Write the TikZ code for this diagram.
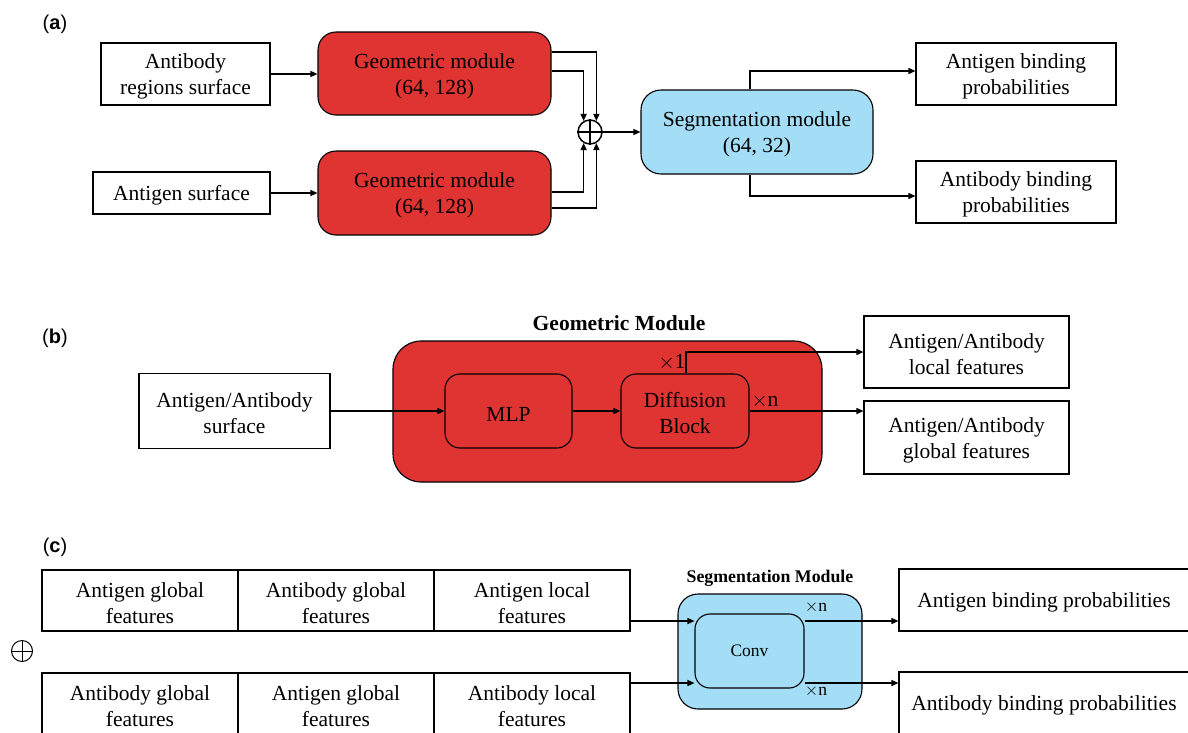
\documentclass[tikz,border=0pt]{standalone}
\usepackage{fontspec}
\setmainfont{Liberation Serif}
\newfontfamily\labfont{Liberation Sans}
\usetikzlibrary{arrows.meta}
\definecolor{gmred}{RGB}{224,52,51}
\definecolor{smblue}{RGB}{163,221,246}
\begin{document}
\begin{tikzpicture}[x=1pt,y=-1pt,
  tbh/.store in=\tbh, tbh=46pt,
  txt/.style={font=\fontsize{21.5}{26}\selectfont},
  box/.style={draw, line width=1.1pt, fill=white, align=center, inner sep=0pt, txt,
    execute at begin node={\rule{0pt}{\tbh}}},
  one/.style={tbh=20pt},
  none/.style={tbh=0pt},
  redbox/.style={box, fill=gmred, rounded corners=18pt},
  bluebox/.style={box, fill=smblue, rounded corners=20pt},
  arr/.style={line width=1.4pt, -{Triangle[length=7pt,width=6pt]}},
  panel/.style={font=\labfont\fontsize{20}{24}\selectfont},
  title/.style={font=\bfseries\fontsize{21.5}{26}\selectfont},
  stitle/.style={font=\bfseries\fontsize{17.8}{21}\selectfont},
  small/.style={font=\fontsize{17.5}{20}\selectfont},
  opl/.style={circle, draw, inner sep=0pt}
]
\useasboundingbox (0,0) rectangle (1188,732);

% ---------------- (a)
\node[panel] (la) at (55,24) {(\textbf{a})};
\node[box, minimum width=169pt, minimum height=62pt] (ab) at (185.5,74) {Antibody\\regions surface};
\node[box, one, minimum width=177pt, minimum height=42pt] (ag) at (181.5,193) {Antigen surface};
\node[redbox, minimum width=233pt, minimum height=83pt] (g1) at (434.5,73.5) {Geometric module\\(64, 128)};
\node[redbox, minimum width=233pt, minimum height=84pt] (g2) at (434.5,193) {Geometric module\\(64, 128)};
\node[opl, line width=1.5pt, minimum size=24pt] (plus) at (590,132) {};
\draw[line width=1.5pt] (plus.north) -- (plus.south) (plus.west) -- (plus.east);
\node[bluebox, minimum width=232pt, minimum height=84pt] (seg) at (757,132) {Segmentation module\\(64, 32)};
\node[box, minimum width=200pt, minimum height=62pt] (o1) at (1016,74) {Antigen binding\\probabilities};
\node[box, minimum width=200pt, minimum height=62pt] (o2) at (1016,192) {Antibody binding\\probabilities};

\draw[arr] (ab.east) -- (ab.east -| g1.west);
\draw[arr] (ag.east) -- (ag.east -| g2.west);
\draw[arr] ([yshift=21.5pt]g1.east) -| (plus.60);
\draw[arr] ([yshift=2.5pt]g1.east) -| (plus.120);
\draw[arr] ([yshift=1pt]g2.east) -| (plus.-120);
\draw[arr] ([yshift=-15pt]g2.east) -| (plus.-60);
\draw[arr] (plus.east) -- (plus.east -| seg.west);
\draw[arr] ([xshift=-7pt]seg.north) |- ([yshift=3pt]o1.west);
\draw[arr] ([xshift=-7pt]seg.south) |- ([yshift=-4pt]o2.west);

% ---------------- (b)
\node[panel] (lb) at (55,338) {(\textbf{b})};
\node[title] (gt) at (619,323) {Geometric Module};
\node[redbox, none, rounded corners=28pt, minimum width=429pt, minimum height=141pt] (gm) at (607.5,411.5) {};
\node[box, minimum width=191pt, minimum height=75pt] (in) at (234.5,411) {Antigen/Antibody\\surface};
\node[redbox, one, rounded corners=15pt, minimum width=127pt, minimum height=74pt] (mlp) at (508.5,411) {MLP};
\node[redbox, rounded corners=15pt, minimum width=128pt, minimum height=74pt] (dif) at (685,411) {Diffusion\\Block};
\node[box, minimum width=205pt, minimum height=72pt] (loc) at (966.5,352) {Antigen/Antibody\\local features};
\node[box, minimum width=205pt, minimum height=73pt] (glo) at (966.5,437.5) {Antigen/Antibody\\global features};
\node[txt] (x1) at (672,362) {$\times$1};
\node[txt] (xn) at (765,401) {$\times$n};

\draw[arr] (in.east) -- (in.east -| mlp.west);
\draw[arr] (mlp.east) -- (mlp.east -| dif.west);
\draw[arr] ([xshift=1pt]dif.north) |- (loc.west);
\draw[arr] (dif.east) -- (dif.east -| glo.west);

% ---------------- (c)
\node[panel] (lc) at (55,547) {(\textbf{c})};
\node[box, minimum width=196pt, minimum height=61pt] (t1) at (140,600.5) {Antigen global\\features};
\node[box, minimum width=196pt, minimum height=61pt] (t2) at (336,600.5) {Antibody global\\features};
\node[box, minimum width=196pt, minimum height=61pt] (t3) at (532,600.5) {Antigen local\\features};
\node[box, minimum width=196pt, minimum height=61pt] (b1) at (140,703.5) {Antibody global\\features};
\node[box, minimum width=196pt, minimum height=61pt] (b2) at (336,703.5) {Antigen global\\features};
\node[box, minimum width=196pt, minimum height=61pt] (b3) at (532,703.5) {Antibody local\\features};
\node[opl, line width=1pt, minimum size=21pt] (cplus) at (22,651) {};
\draw[line width=1pt] (cplus.north) -- (cplus.south) (cplus.west) -- (cplus.east);

\node[stitle] (st) at (770,578) {Segmentation Module};
\node[bluebox, none, minimum width=184pt, minimum height=115pt] (sm) at (770,651.5) {};
\node[bluebox, none, rounded corners=15pt, minimum width=109pt, minimum height=74pt, small] (conv) at (749.5,651) {Conv};
\node[box, one, minimum width=290pt, minimum height=62pt] (o3) at (1044,600) {Antigen binding probabilities};
\node[box, one, minimum width=290pt, minimum height=62pt] (o4) at (1044,703) {Antibody binding probabilities};
\node[small] (xn1) at (816,607) {$\times$n};
\node[small] (xn2) at (816,691) {$\times$n};

\coordinate (ci1) at ([yshift=-20.5pt]t3.east);
\coordinate (ci2) at ([yshift=20.5pt]b3.east);
\draw[arr] (ci1) -- (ci1 -| conv.west);
\draw[arr] (ci2) -- (ci2 -| conv.west);
\coordinate (co1) at ([yshift=30pt]conv.east);
\coordinate (co2) at ([yshift=-32pt]conv.east);
\draw[arr] (co1) -- (co1 -| o3.west);
\draw[arr] (co2) -- (co2 -| o4.west);
\end{tikzpicture}
\end{document}
